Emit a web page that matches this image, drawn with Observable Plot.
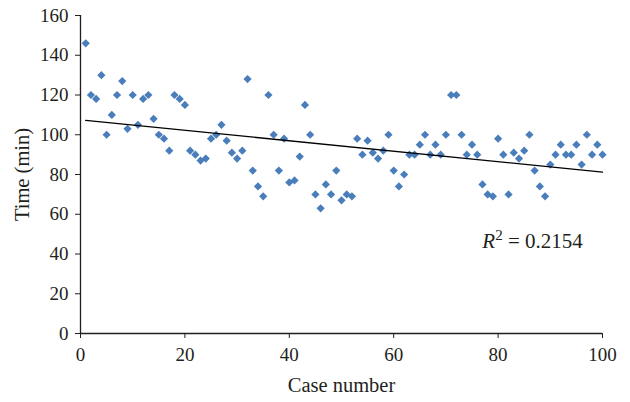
<!DOCTYPE html>
<html><head><meta charset="utf-8">
<script src="https://cdn.jsdelivr.net/npm/d3@7"></script>
<script src="https://cdn.jsdelivr.net/npm/@observablehq/plot@0.6"></script>
<style>
html,body{margin:0;padding:0;background:#fff;}
</style>
</head><body>
<div id="chart"></div>
<script>
const caseNumbers = d3.range(1, 101);
const times = [146,120,118,130,100,110,120,127,103,120,
               105,118,120,108,100,98,92,120,118,115,
               92,90,87,88,98,100,105,97,91,88,
               92,128,82,74,69,120,100,82,98,76,
               77,89,115,100,70,63,75,70,82,67,
               70,69,98,90,97,91,88,92,100,82,
               74,80,90,90,95,100,90,95,90,100,
               120,120,100,90,95,90,75,70,69,98,
               90,70,91,88,92,100,82,74,69,85,
               90,95,90,90,95,85,100,90,95,90];
const xTicks = [0,20,40,60,80,100];
const yTicks = [0,20,40,60,80,100,120,140,160];
const xTitle = "Case number";
const yTitle = "Time (min)";
const rLabel = "R2 = 0.2154";
const rAnchor = [{x: 86.6, y: 46.6}];

const data = caseNumbers.map((c, i) => ({c, t: times[i]}));

const chart = Plot.plot({
  width: 630,
  height: 402,
  marginLeft: 80,
  marginRight: 28,
  marginTop: 15,
  marginBottom: 69,
  style: {fontFamily: "'Liberation Serif', serif", fontSize: "19px", color: "#231f20", background: "#fff"},
  x: {domain: [0, 100]},
  y: {domain: [0, 160]},
  marks: [
    Plot.axisX({ticks: xTicks, tickSize: 5, tickPadding: 9, fontSize: 19, label: null}),
    Plot.axisY({ticks: yTicks, tickSize: 5, tickPadding: 7, fontSize: 19, label: null}),
    Plot.text([xTitle], {x: 50, y: 0, text: d => d, dy: 52, fontSize: 20.5, fill: "#231f20", lineAnchor: "middle", textAnchor: "middle"}),
    Plot.text([yTitle], {x: 0, y: 80, text: d => d, dx: -58, rotate: -90, fontSize: 20.5, fill: "#231f20", lineAnchor: "middle", textAnchor: "middle"}),
    Plot.ruleX([0], {stroke: "#231f20", strokeWidth: 1.3}),
    Plot.ruleY([0], {stroke: "#231f20", strokeWidth: 1.3}),
    Plot.dot(data, {x: "c", y: "t", symbol: "diamond2", r: 3.7, fill: "#4a7ebb"}),
    Plot.linearRegressionY(data, {x: "c", y: "t", ci: 0, stroke: "#000", strokeWidth: 1.3}),
    Plot.text(rAnchor, {x: "x", y: "y", text: () => rLabel, fontSize: 21, fill: "#231f20", textAnchor: "middle", className: "rsq"})
  ]
});
document.getElementById("chart").appendChild(chart);

// style the R² annotation: italic R and superscript 2
d3.select(chart).selectAll(".rsq text").each(function() {
  const t = d3.select(this);
  t.text(null);
  t.append("tspan").attr("font-style", "italic").text("R");
  t.append("tspan").attr("dy", "-8").attr("font-size", "15").text("2");
  t.append("tspan").attr("dy", "8").text(" = 0.2154");
});
</script>
</body></html>
